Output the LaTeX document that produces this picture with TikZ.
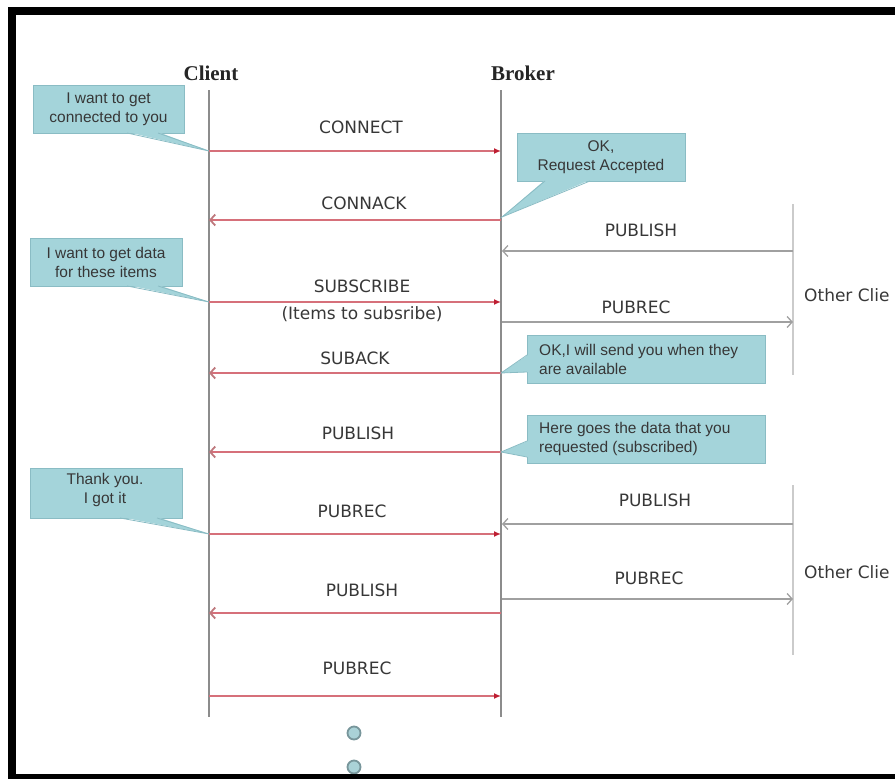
\documentclass[tikz,border=0pt]{standalone}
\usepackage{fontspec}
\setmainfont{DejaVu Sans}
\newfontfamily\calloutfont{Liberation Sans}
\newfontfamily\headfont{Liberation Serif}
\usetikzlibrary{arrows.meta}

\definecolor{lifegrey}{RGB}{140,140,140}
\definecolor{msgred}{RGB}{214,112,122}
\definecolor{tipred}{RGB}{190,30,50}
\definecolor{replytip}{RGB}{190,120,125}
\definecolor{calloutfill}{RGB}{164,212,218}
\definecolor{calloutedge}{RGB}{138,188,196}
\definecolor{textgrey}{RGB}{55,55,55}
\definecolor{othergrey}{RGB}{160,160,160}
\definecolor{dotfill}{RGB}{170,210,215}
\definecolor{dotedge}{RGB}{120,150,155}

\tikzset{
  lifeline/.style={draw=lifegrey, line width=1.8pt},
  otherline/.style={draw=lifegrey!45, line width=1.2pt},
  request/.style={draw=msgred, line width=1.8pt,
    -{Latex[length=7pt,width=6pt,color=tipred]}},
  reply/.style={draw=msgred, line width=1.8pt,
    -{Straight Barb[length=5pt,width=11pt,color=replytip]}},
  otherarrow/.style={draw=othergrey, line width=1.3pt,
    -{Straight Barb[length=5pt,width=11pt]}},
  msglabel/.style={font=\fontsize{17}{20}\selectfont, text=textgrey, inner sep=0},
  headlabel/.style={font=\headfont\bfseries\fontsize{21}{24}\selectfont, text=black!85, inner sep=0},
  calloutbox/.style={fill=calloutfill, draw=calloutedge, line width=0.8pt,
    font=\calloutfont\fontsize{15.5}{19}\selectfont, text=textgrey,
    inner sep=0, align=center},
  callouttext/.style={font=\calloutfont\fontsize{15.5}{19}\selectfont, text=textgrey,
    inner sep=0, align=left, anchor=west},
  wedge/.style={fill=calloutfill},
  wedgeedge/.style={draw=calloutedge, line width=0.8pt},
  dot/.style={circle, fill=dotfill, draw=dotedge, line width=1.8pt, minimum size=13pt, inner sep=0},
}

\begin{document}
\begin{tikzpicture}[x=1pt,y=-1pt]
\useasboundingbox (0,0) rectangle (895,779);
\begin{scope}
\clip (0,0) rectangle (895,779);

% headings
\node[headlabel] (client) at (211,73) {Client};
\node[headlabel] (broker) at (523,73) {Broker};

% lifelines
\coordinate (ctop) at (209,90);  \coordinate (cbot) at (209,717);
\coordinate (btop) at (501,90);  \coordinate (bbot) at (501,717);
\coordinate (o1top) at (793,204); \coordinate (o1bot) at (793,375);
\coordinate (o2top) at (793,485); \coordinate (o2bot) at (793,655);
\draw[lifeline] (ctop) -- (cbot);
\draw[lifeline] (btop) -- (bbot);
\draw[otherline] (o1top) -- (o1bot);
\draw[otherline] (o2top) -- (o2bot);

% message end points
\foreach \n/\y in {m1/151, m2/220, m3/302, m4/373, m5/452, m6/534, m7/613, m8/696}{
  \coordinate (c\n) at (209,\y);
  \coordinate (b\n) at (501,\y);
}
\foreach \n/\y in {p1/251, p2/322, p3/524, p4/599}{
  \coordinate (b\n) at (502,\y);
  \coordinate (o\n) at (793,\y);
}

% client <-> broker messages
\draw[request] (cm1) -- (bm1);
\draw[reply]   (bm2) -- (cm2);
\draw[request] (cm3) -- (bm3);
\draw[reply]   (bm4) -- (cm4);
\draw[reply]   (bm5) -- (cm5);
\draw[request] (cm6) -- (bm6);
\draw[reply]   (bm7) -- (cm7);
\draw[request] (cm8) -- (bm8);

\node[msglabel] (l1) at (361,127) {CONNECT};
\node[msglabel] (l2) at (364,203) {CONNACK};
\node[msglabel] (l3) at (362,286) {SUBSCRIBE};
\node[msglabel] (l3b) at (362,314) {(Items to subsribe)};
\node[msglabel] (l4) at (355,358) {SUBACK};
\node[msglabel] (l5) at (358,433) {PUBLISH};
\node[msglabel] (l6) at (352,511) {PUBREC};
\node[msglabel] (l7) at (362,590) {PUBLISH};
\node[msglabel] (l8) at (357,668) {PUBREC};

% broker <-> other clients
\draw[otherarrow] (op1) -- (bp1);
\draw[otherarrow] (bp2) -- (op2);
\draw[otherarrow] (op3) -- (bp3);
\draw[otherarrow] (bp4) -- (op4);

\node[msglabel] (q1) at (641,230) {PUBLISH};
\node[msglabel] (q2) at (636,307) {PUBREC};
\node[msglabel] (q3) at (655,500) {PUBLISH};
\node[msglabel] (q4) at (649,578) {PUBREC};

\node[msglabel, anchor=west] (other1) at (804,295) {Other Clie};
\node[msglabel, anchor=west] (other2) at (804,572) {Other Clie};

% callouts
\node[calloutbox, minimum width=151pt, minimum height=48pt] (k1) at (108.5,109) {I want to get\\connected to you};
\fill[wedge] (127,132) -- (209,151) -- (158,132) -- cycle;
\draw[wedgeedge] (127,133) -- (209,151) -- (158,133);

\node[calloutbox, minimum width=168pt, minimum height=48pt] (k2) at (601,157) {OK,\\Request Accepted};
\fill[wedge] (545,180) -- (502,217) -- (590,180) -- cycle;
\draw[wedgeedge] (545,181) -- (502,217) -- (590,181);

\node[calloutbox, minimum width=152pt, minimum height=48pt] (k3) at (106,262) {I want to get data\\for these items};
\fill[wedge] (127,285) -- (209,302) -- (158,285) -- cycle;
\draw[wedgeedge] (127,286) -- (209,302) -- (158,286);

\node[calloutbox, minimum width=238pt, minimum height=48pt] (k4) at (646,359) {};
\node[callouttext] (k4t) at (539,359) {OK,I will send you when they\\are available};
\fill[wedge] (528,355) -- (501,373) -- (528,372) -- cycle;
\draw[wedgeedge] (527,355) -- (501,373) -- (527,372);

\node[calloutbox, minimum width=238pt, minimum height=48pt] (k5) at (646,439) {};
\node[callouttext] (k5t) at (539,439) {Here goes the data that you\\requested (subscribed)};
\fill[wedge] (528,441) -- (501,452) -- (528,457) -- cycle;
\draw[wedgeedge] (527,441) -- (501,452) -- (527,457);

\node[calloutbox, minimum width=152pt, minimum height=50pt] (k6) at (106,493) {};
\node[calloutbox, draw=none, fill=none] (k6t) at (105,490) {Thank you.\\I got it};
\fill[wedge] (120,517) -- (209,534) -- (157,517) -- cycle;
\draw[wedgeedge] (120,518) -- (209,534) -- (157,518);

% continuation marks
\node[dot] (d1) at (354,733) {};
\node[dot] (d2) at (354,767) {};

% frame
\fill[black] (8,7) rectangle (895,15);
\fill[black] (8,7) rectangle (16,779);
\fill[black] (8,774) rectangle (895,779);
\end{scope}
\end{tikzpicture}
\end{document}
